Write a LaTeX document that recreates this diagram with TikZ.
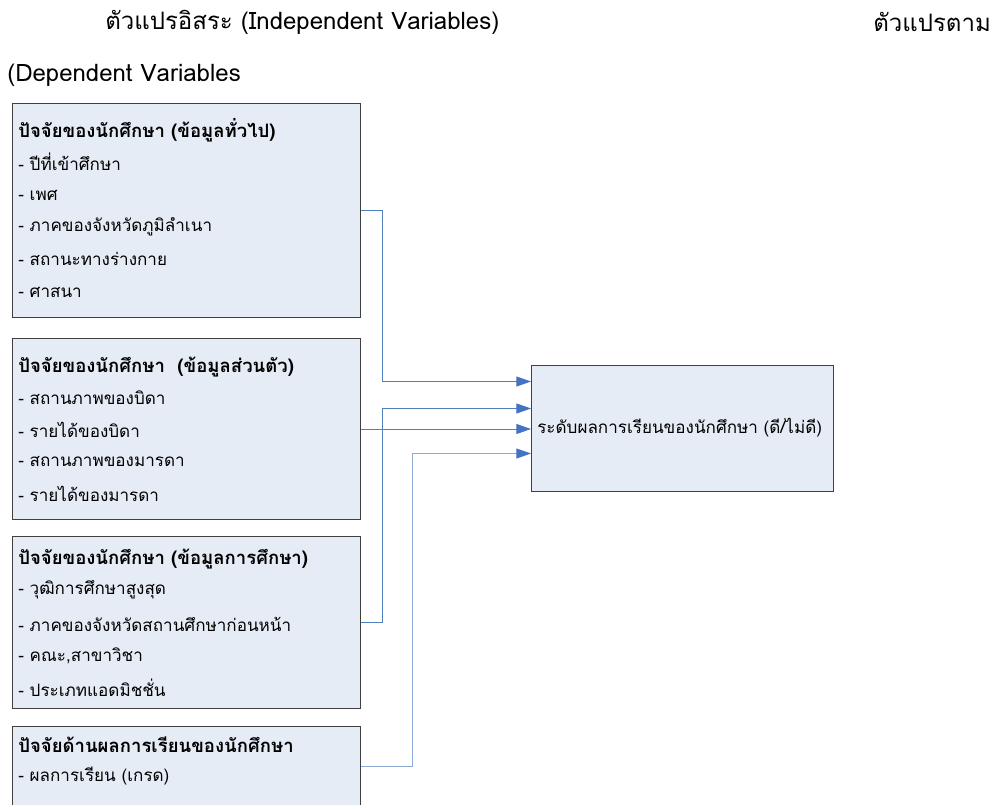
\documentclass[tikz,border=0pt]{standalone}
\usepackage{fontspec}
\setmainfont[Script=Thai]{Loma}
\usetikzlibrary{arrows.meta}

\definecolor{boxblue}{RGB}{230,236,246}
\definecolor{linkblue}{RGB}{79,129,189}
\definecolor{linklight}{RGB}{142,170,216}
\definecolor{tipblue}{RGB}{68,114,196}

\tikzset{
  factorbox/.style={draw=black!75, fill=boxblue, line width=0.75pt, anchor=north west, inner sep=0pt},
  link/.style={draw=linkblue, line width=0.75pt, -{Triangle[length=11pt,width=7.5pt,color=tipblue]}},
  item/.style={anchor=west, inner sep=0pt, font=\fontsize{12.8}{14}\selectfont},
  head/.style={item, font=\fontsize{13.9}{15}\selectfont\bfseries},
  caption/.style={anchor=west, inner sep=0pt, font=\fontsize{18}{20}\selectfont},
}

\begin{document}
\begin{tikzpicture}[x=0.75pt,y=0.75pt,yscale=-1,xscale=1]
\clip (0,0) rectangle (994,805);

% Titles
\node[caption] (indep) at (105,22) {ตัวแปรอิสระ (Independent Variables)};
\node[caption] (dep) at (873,22) {ตัวแปรตาม};
\node[caption] (depen) at (7,75) {(Dependent Variables};

% Factor boxes
\node[factorbox, minimum width=261pt, minimum height=160.5pt] (general) at (12,103) {};
\node[factorbox, minimum width=261pt, minimum height=135.75pt] (personal) at (12,338) {};
\node[factorbox, minimum width=261pt, minimum height=129pt] (study) at (12,536) {};
\node[factorbox, minimum width=261pt, minimum height=67.5pt] (grade) at (12,726) {};

% Result box
\node[factorbox, minimum width=226.5pt, minimum height=94.5pt] (result) at (531,365) {};
\node[item] (resulttxt) at (537,428) {ระดับผลการเรียนของนักศึกษา (ดี/ไม่ดี)};

% Box 1 text
\node[head] (g0) at (18,130) {ปัจจัยของนักศึกษา (ข้อมูลทั่วไป)};
\node[item] (g1) at (18,162) {- ปีที่เข้าศึกษา};
\node[item] (g2) at (18,195) {- เพศ};
\node[item] (g3) at (18,227) {- ภาคของจังหวัดภูมิลำเนา};
\node[item] (g4) at (18,259) {- สถานะทางร่างกาย};
\node[item] (g5) at (18,292) {- ศาสนา};

% Box 2 text
\node[head] (p0) at (18,367) {ปัจจัยของนักศึกษา~~(ข้อมูลส่วนตัว)};
\node[item] (p1) at (18,398) {- สถานภาพของบิดา};
\node[item] (p2) at (18,430) {- รายได้ของบิดา};
\node[item] (p3) at (18,462) {- สถานภาพของมารดา};
\node[item] (p4) at (18,494) {- รายได้ของมารดา};

% Box 3 text
\node[head] (s0) at (18,559) {ปัจจัยของนักศึกษา (ข้อมูลการศึกษา)};
\node[item] (s1) at (18,590) {- วุฒิการศึกษาสูงสุด};
\node[item] (s2) at (18,624) {- ภาคของจังหวัดสถานศึกษาก่อนหน้า};
\node[item] (s3) at (18,656) {- คณะ,สาขาวิชา};
\node[item] (s4) at (18,688) {- ประเภทแอดมิชชั่น};

% Box 4 text
\node[head] (r0) at (18,745) {ปัจจัยด้านผลการเรียนของนักศึกษา};
\node[item] (r1) at (18,776) {- ผลการเรียน (เกรด)};

% Arrow ends on result box
\coordinate (in1) at ([yshift=-35.25pt]result.west);
\coordinate (in2) at ([yshift=-15pt]result.west);
\coordinate (in4) at ([yshift=18.75pt]result.west);
\coordinate (out4) at ([yshift=30pt]grade.north east);

% Connectors
\draw[link] (general.east) -- ++(21,0) |- (in1);
\draw[link] (personal.east) -- (personal.east -| result.west);
\draw[link] (study.east) -- ++(21,0) |- (in2);
\draw[link, draw=linklight] (out4) -- ++(51,0) |- (in4);

\end{tikzpicture}
\end{document}
